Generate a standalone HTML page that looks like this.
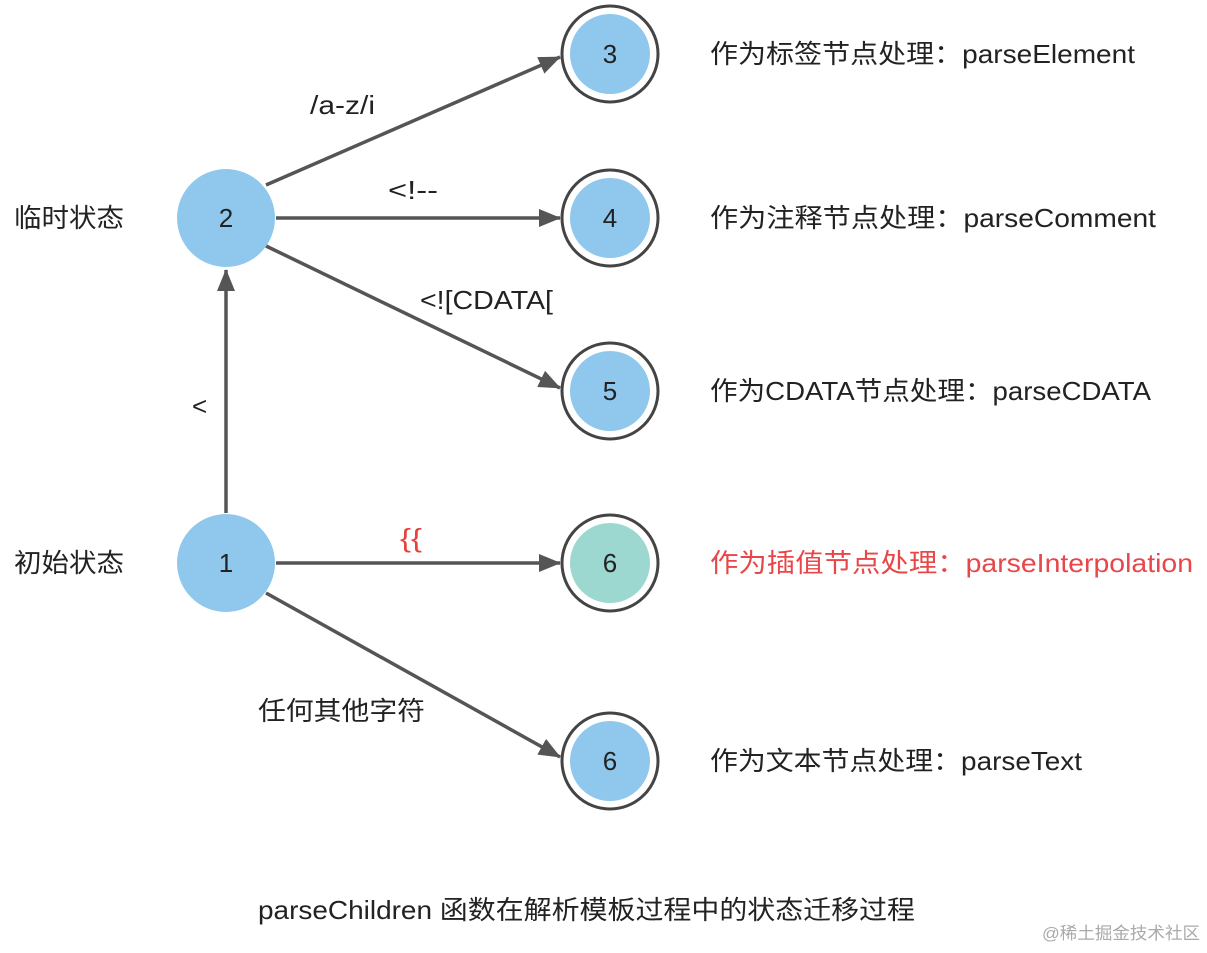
<!DOCTYPE html>
<html><head><meta charset="utf-8"><style>
html,body{margin:0;padding:0;background:#fff;}
text{font-family:"Liberation Sans","Noto Sans CJK SC",sans-serif;font-size:26px;fill:#222;}
</style></head><body>
<svg width="1207" height="948" viewBox="0 0 1207 948" xmlns="http://www.w3.org/2000/svg">
<defs>
<marker id="ar" viewBox="0 0 22 18" refX="21" refY="9" markerWidth="22" markerHeight="18" orient="auto" markerUnits="userSpaceOnUse"><path d="M0,0 L22,9 L0,18 z" fill="#555"/></marker>
</defs>
<g stroke="#555" stroke-width="3.5" fill="none">
<line x1="266" y1="185" x2="560" y2="57" marker-end="url(#ar)"/>
<line x1="276" y1="218" x2="560" y2="218" marker-end="url(#ar)"/>
<line x1="266" y1="246" x2="560" y2="388" marker-end="url(#ar)"/>
<line x1="226" y1="513" x2="226" y2="270" marker-end="url(#ar)"/>
<line x1="276" y1="563" x2="560" y2="563" marker-end="url(#ar)"/>
<line x1="266" y1="593" x2="560" y2="757" marker-end="url(#ar)"/>
</g>
<circle cx="226" cy="218" r="49" fill="#8fc8ec"/>
<circle cx="226" cy="563" r="49" fill="#8fc8ec"/>
<g stroke="#444" stroke-width="3" fill="#fff">
<circle cx="610" cy="54" r="48"/>
<circle cx="610" cy="218" r="48"/>
<circle cx="610" cy="391" r="48"/>
<circle cx="610" cy="563" r="48"/>
<circle cx="610" cy="761" r="48"/>
</g>
<g fill="#8fc8ec">
<circle cx="610" cy="54" r="40"/>
<circle cx="610" cy="218" r="40"/>
<circle cx="610" cy="391" r="40"/>
<circle cx="610" cy="761" r="40"/>
</g>
<circle cx="610" cy="563" r="40" fill="#9dd8d0"/>
<g text-anchor="middle">
<text x="226" y="227">2</text>
<text x="226" y="572">1</text>
<text x="610" y="63">3</text>
<text x="610" y="227">4</text>
<text x="610" y="400">5</text>
<text x="610" y="572">6</text>
<text x="610" y="770">6</text>
</g>
<text x="14" y="227" textLength="110" lengthAdjust="spacingAndGlyphs">临时状态</text>
<text x="14" y="572" textLength="110" lengthAdjust="spacingAndGlyphs">初始状态</text>
<text x="310" y="114" textLength="65" lengthAdjust="spacingAndGlyphs">/a-z/i</text>
<text x="388" y="199" textLength="50" lengthAdjust="spacingAndGlyphs">&lt;!--</text>
<text x="420" y="309" textLength="133" lengthAdjust="spacingAndGlyphs">&lt;![CDATA[</text>
<text x="192" y="415">&lt;</text>
<text x="400" y="547" style="fill:#e8403a" textLength="22" lengthAdjust="spacingAndGlyphs">{{</text>
<text x="258" y="720" textLength="167" lengthAdjust="spacingAndGlyphs">任何其他字符</text>
<text x="710" y="63" textLength="425" lengthAdjust="spacingAndGlyphs">作为标签节点处理：parseElement</text>
<text x="710" y="227" textLength="446" lengthAdjust="spacingAndGlyphs">作为注释节点处理：parseComment</text>
<text x="710" y="400" textLength="441" lengthAdjust="spacingAndGlyphs">作为CDATA节点处理：parseCDATA</text>
<text x="710" y="572" style="fill:#e8474a" textLength="483" lengthAdjust="spacingAndGlyphs">作为插值节点处理：parseInterpolation</text>
<text x="710" y="770" textLength="372" lengthAdjust="spacingAndGlyphs">作为文本节点处理：parseText</text>
<text x="258" y="919" textLength="657" lengthAdjust="spacingAndGlyphs">parseChildren 函数在解析模板过程中的状态迁移过程</text>
<text x="1042" y="939" style="font-size:17px;fill:#aaa" textLength="158" lengthAdjust="spacingAndGlyphs">@稀土掘金技术社区</text>
</svg>
</body></html>
